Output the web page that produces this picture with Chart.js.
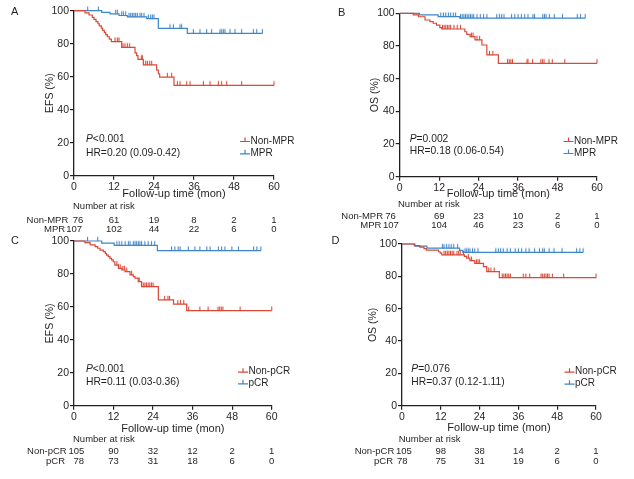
<!DOCTYPE html>
<html>
<head>
<meta charset="utf-8">
<script src="https://cdn.jsdelivr.net/npm/chart.js@4/dist/chart.umd.min.js"></script>
<style>
  html, body { margin: 0; padding: 0; background: #ffffff; }
  #wrap { position: relative; width: 634px; height: 479px; overflow: hidden; }
  canvas { position: absolute; }
</style>
</head>
<body>
<div id="wrap">
  <canvas id="cA" width="317" height="240" style="left:0px;top:0px"></canvas>
  <canvas id="cB" width="317" height="240" style="left:317px;top:0px"></canvas>
  <canvas id="cC" width="317" height="249" style="left:0px;top:230px"></canvas>
  <canvas id="cD" width="317" height="249" style="left:317px;top:230px"></canvas>
</div>
<script>
// ---------------- DATA ----------------
const xTicks = [0, 12, 24, 36, 48, 60];
const riskTimes = [0, 12, 24, 36, 48, 60];

// Panel A: EFS by MPR
const efsNonMPRSteps = [[0,100],[3.3,98.7],[4.5,97.4],[5.5,96.0],[6.0,94.7],[6.6,93.4],[7.2,92.1],[7.6,90.8],[8.2,89.4],[8.6,88.1],[9.1,86.8],[9.5,85.5],[10.0,84.2],[10.6,82.8],[11.2,81.3],[14.3,77.8],[18.3,74.5],[18.8,72.8],[19.2,70.5],[20.8,67.2],[24.8,64.0],[25.3,61.8],[25.7,59.8],[30.0,54.8]];
const efsNonMPRCensor = [12.3,13.0,13.5,14.7,15.3,16.0,16.7,20.2,20.5,21.5,22.0,22.7,23.3,28.0,29.3,31.0,31.8,33.8,34.8,38.8,40.8,43.3,44.3,45.8,50.3,60];
const efsMPRSteps = [[0,100],[8.3,99.0],[10.8,98.1],[13.5,97.1],[16.0,96.2],[21.8,95.2],[25.3,89.3],[34.0,86.3]];
const efsMPRCensor = [4.1,7.3,12.5,13.0,14.3,14.8,15.5,16.5,17.0,17.5,18.0,18.5,19.0,19.8,20.3,21.0,22.3,23.0,23.5,24.0,28.8,29.8,31.8,32.3,35.8,37.8,39.8,41.3,43.8,44.3,44.8,45.3,46.8,48.3,50.3,53.8,54.8,56.5];
const riskA_NonMPR = [76, 61, 19, 8, 2, 1];
const riskA_MPR = [107, 102, 44, 22, 6, 0];

// Panel B: OS by MPR
const osNonMPRSteps = [[0,100],[4.1,99.0],[5.7,97.9],[7.7,95.9],[9.2,94.9],[10.2,93.9],[11.2,92.8],[12.2,91.2],[12.8,90.4],[19.8,88.7],[20.4,87.1],[21.4,85.7],[22.9,83.7],[25.0,80.6],[26.5,74.5],[30.0,69.4]];
const osNonMPRCensor = [13.0,13.5,14.0,14.5,15.0,15.5,16.5,17.5,18.5,21.8,22.3,23.5,24.3,27.3,28.3,32.8,33.3,33.8,34.3,38.7,39.0,40.4,42.9,43.4,43.9,45.4,46.4,50.2,60];
const osMPRSteps = [[0,100],[6.0,99.0],[11.7,98.0],[18.3,97.0]];
const osMPRCensor = [12.5,13.3,14.0,14.8,15.5,16.3,17.0,18.5,19.0,19.5,20.0,20.5,21.0,21.5,22.0,22.5,23.5,24.5,25.5,26.5,29.5,30.3,31.0,31.7,34.0,35.0,36.0,37.0,38.0,39.0,40.5,41.0,43.5,44.0,44.5,45.5,47.0,49.5,54.0,55.0,56.4];
const riskB_NonMPR = [76, 69, 23, 10, 2, 1];
const riskB_MPR = [107, 104, 46, 23, 6, 0];

// Panel C: EFS by pCR
const efsNonPCRSteps = [[0,100],[3.3,99.0],[4.9,97.6],[6.4,96.6],[7.2,95.6],[7.9,94.5],[8.9,93.5],[9.5,92.4],[9.9,91.4],[10.4,90.5],[10.9,89.5],[11.4,88.5],[11.9,87.4],[12.4,85.4],[13.5,83.4],[14.5,82.4],[15.5,81.4],[17.0,79.4],[18.0,78.4],[18.5,77.4],[19.5,75.3],[20.5,72.3],[25.6,64.2],[30.2,61.7],[34.2,57.7]];
const efsNonPCRCensor = [13.0,13.5,14.0,14.8,15.3,16.0,17.5,19.8,21.0,21.5,22.0,22.5,23.0,23.5,24.0,27.5,28.5,29.0,31.5,32.3,33.3,34.8,38.2,40.7,43.7,44.2,44.7,45.2,50.4,60];
const efsPCRSteps = [[0,100],[8.4,98.7],[12.2,97.4],[25.3,94.2]];
const efsPCRCensor = [4.1,7.2,13.0,13.7,14.5,15.5,16.5,17.0,18.0,18.5,19.0,19.5,20.0,20.5,21.5,22.5,23.5,24.5,29.6,30.6,31.6,32.2,34.7,36.7,38.2,40.3,41.3,43.8,44.8,45.8,47.9,49.9,54.5,55.5,56.7];
const riskC_NonPCR = [105, 90, 32, 12, 2, 1];
const riskC_PCR = [78, 73, 31, 18, 6, 0];

// Panel D: OS by pCR
const osNonPCRSteps = [[0,100],[3.8,99.0],[5.5,98.1],[6.8,97.1],[7.5,96.2],[11.3,95.2],[11.8,94.3],[12.3,93.3],[19.3,92.3],[20.0,91.3],[21.0,89.7],[22.5,88.0],[25.2,86.0],[26.2,82.9],[30.1,79.2]];
const osNonPCRCensor = [13.0,13.5,14.0,14.5,15.0,15.5,16.0,17.0,17.5,18.0,19.0,20.5,21.5,23.0,23.5,24.0,26.8,27.5,28.5,31.0,31.5,32.0,32.5,33.0,33.5,37.5,38.3,39.5,43.0,43.5,44.0,44.5,45.0,45.5,46.5,50.0,60];
const osPCRSteps = [[0,100],[4.0,98.7],[7.7,97.4],[17.8,96.1],[18.8,94.8]];
const osPCRCensor = [12.5,13.0,13.8,14.5,15.2,16.0,17.2,19.5,20.0,20.5,21.0,21.8,22.5,23.5,29.0,29.8,30.5,31.3,32.5,33.5,35.0,36.0,37.0,38.3,39.3,41.0,42.5,43.5,44.0,45.5,47.0,49.5,54.0,55.0,56.0];
const riskD_NonPCR = [105, 98, 38, 14, 2, 1];
const riskD_PCR = [78, 75, 31, 19, 6, 0];

// ---------------- STYLE ----------------
const RED = '#d84a36';
const BLUE = '#3f86c8';
const TXT = '#231f20';
const FONT = '"Liberation Sans", Arial, sans-serif';

function survAt(steps, t) {
  let s = steps[0][1];
  for (const [tt, ss] of steps) { if (tt <= t) s = ss; }
  return s;
}
function tickImg(color) {
  const c = document.createElement('canvas');
  c.width = 3; c.height = 10;
  const g = c.getContext('2d');
  g.strokeStyle = color; g.lineWidth = 1.1;
  g.beginPath(); g.moveTo(1.5, 0.8); g.lineTo(1.5, 5.2); g.stroke();
  return c;
}
const redTick = tickImg(RED), blueTick = tickImg(BLUE);

function kmDatasets(label, steps, censor, color, tick) {
  const lastT = Math.max(...censor, steps[steps.length - 1][0]);
  const line = steps.map(([t, s]) => ({x: t, y: s}));
  line.push({x: lastT, y: steps[steps.length - 1][1]});
  return [
    { label, data: line, showLine: true, stepped: 'before', borderColor: color, borderWidth: 1.2,
      pointRadius: 0, fill: false, clip: false },
    { label: label + ' censored', data: censor.map(t => ({x: t, y: survAt(steps, t)})), showLine: false,
      pointStyle: tick, pointRadius: 3, clip: false }
  ];
}

const panelText = {
  id: 'panelText',
  afterDraw(chart, args, o) {
    const ctx = chart.ctx, xs = chart.scales.x;
    ctx.save();
    ctx.fillStyle = TXT;
    ctx.textBaseline = 'middle';
    // panel letter
    ctx.font = '11px ' + FONT; ctx.textAlign = 'left';
    ctx.fillText(o.letter, o.letterXY[0], o.letterXY[1]);
    // stats
    ctx.font = 'italic 10.3px ' + FONT;
    ctx.fillText('P', o.statXY[0], o.statXY[1]);
    const pw = ctx.measureText('P').width;
    ctx.font = '10.3px ' + FONT;
    ctx.fillText(o.pText, o.statXY[0] + pw, o.statXY[1]);
    ctx.fillText(o.hrText, o.statXY[0], o.statXY[2]);
    // legend
    const items = [[o.groups[0], RED, o.legendY[0]], [o.groups[1], BLUE, o.legendY[1]]];
    ctx.font = '10px ' + FONT;
    for (const [lab, col, y] of items) {
      ctx.strokeStyle = col; ctx.lineWidth = 1.2;
      ctx.beginPath();
      ctx.moveTo(o.legendX, y + 0.5); ctx.lineTo(o.legendX + 10, y + 0.5);
      ctx.moveTo(o.legendX + 5, y + 0.5); ctx.lineTo(o.legendX + 5, y - 3.5);
      ctx.stroke();
      ctx.fillStyle = TXT;
      ctx.fillText(lab, o.legendX + 10.5, y);
    }
    // risk table
    ctx.font = '9.5px ' + FONT;
    ctx.textAlign = 'left';
    ctx.fillText('Number at risk', o.riskX, o.riskY[0]);
    const x0 = xs.getPixelForValue(0);
    for (let r = 0; r < 2; r++) {
      const y = o.riskY[r + 1], vals = o.risk[r];
      ctx.textAlign = 'right';
      ctx.fillText(o.groups[r], x0 + o.labelDx[r], y);
      ctx.textAlign = 'left';
      ctx.fillText(String(vals[0]), x0 + o.numDx[r], y);
      ctx.textAlign = 'center';
      for (let i = 1; i < vals.length; i++) {
        ctx.fillText(String(vals[i]), xs.getPixelForValue(riskTimes[i]), y);
      }
    }
    ctx.restore();
  }
};

function makeChart(id, cfg) {
  const ctx = document.getElementById(id).getContext('2d');
  return new Chart(ctx, {
    type: 'scatter',
    data: { datasets: [
      ...kmDatasets(cfg.groups[0], cfg.red[0], cfg.red[1], RED, redTick),
      ...kmDatasets(cfg.groups[1], cfg.blue[0], cfg.blue[1], BLUE, blueTick)
    ]},
    options: {
      responsive: false, animation: false, events: [], devicePixelRatio: 1,
      layout: { padding: cfg.pad },
      plugins: { legend: { display: false }, tooltip: { enabled: false }, panelText: cfg },
      scales: {
        x: {
          type: 'linear', min: 0, max: 60,
          afterBuildTicks: s => { s.ticks = xTicks.map(v => ({value: v})); },
          afterFit: s => { s.height = cfg.xH; },
          grid: { display: true, drawOnChartArea: false, drawTicks: true, tickLength: 4, color: TXT, lineWidth: 1.2 },
          border: { display: true, color: TXT, width: 1.3 },
          ticks: { color: TXT, padding: 1.4, maxRotation: 0, font: { family: FONT, size: 10.5 } },
          title: { display: true, text: 'Follow-up time (mon)', color: TXT, padding: {top: 0, bottom: 0},
                   font: { family: FONT, size: 11, lineHeight: 1.2 } }
        },
        y: {
          min: 0, max: 100,
          ticks: { stepSize: 20, color: TXT, padding: 1, font: { family: FONT, size: 10.5 } },
          afterFit: s => { s.width = cfg.yW; },
          grid: { display: true, drawOnChartArea: false, drawTicks: true, tickLength: 4, color: TXT, lineWidth: 1.2 },
          border: { display: true, color: TXT, width: 1.3 },
          title: { display: true, text: cfg.yTitle, color: TXT, padding: {top: cfg.yTitlePad, bottom: 0},
                   font: { family: FONT, size: 10.5, lineHeight: 1.2 } }
        }
      }
    },
    plugins: [panelText]
  });
}

makeChart('cA', {
  letter: 'A', letterXY: [11, 12], yTitle: 'EFS (%)', groups: ['Non-MPR', 'MPR'],
  red: [efsNonMPRSteps, efsNonMPRCensor], blue: [efsMPRSteps, efsMPRCensor],
  risk: [riskA_NonMPR, riskA_MPR],
  pad: {left: 0, top: 10.7, right: 43, bottom: 39.1}, yW: 74, xH: 25.2, yTitlePad: 43.4,
  pText: '<0.001', hrText: 'HR=0.20 (0.09-0.42)', statXY: [86, 139.5, 153],
  legendX: 240, legendY: [141, 153.3],
  riskX: 73, riskY: [206.7, 220, 229.3], labelDx: [-5.7, -8.8], numDx: [-1.3, -7.8]
});
makeChart('cB', {
  letter: 'B', letterXY: [21, 12.7], yTitle: 'OS (%)', groups: ['Non-MPR', 'MPR'],
  red: [osNonMPRSteps, osNonMPRCensor], blue: [osMPRSteps, osMPRCensor],
  risk: [riskB_NonMPR, riskB_MPR],
  pad: {left: 0, top: 13.3, right: 37, bottom: 39.1}, yW: 82.7, xH: 24.2, yTitlePad: 51.7,
  pText: '=0.002', hrText: 'HR=0.18 (0.06-0.54)', statXY: [92.7, 139, 151],
  legendX: 246.5, legendY: [141, 153],
  riskX: 81, riskY: [204, 216, 225.7], labelDx: [-16.7, -18.3], numDx: [-14.4, -16.8]
});
makeChart('cC', {
  letter: 'C', letterXY: [11, 10.7], yTitle: 'EFS (%)', groups: ['Non-pCR', 'pCR'],
  red: [efsNonPCRSteps, efsNonPCRCensor], blue: [efsPCRSteps, efsPCRCensor],
  risk: [riskC_NonPCR, riskC_PCR],
  pad: {left: 0, top: 11, right: 45.3, bottom: 43.1}, yW: 74, xH: 30.2, yTitlePad: 43.4,
  pText: '<0.001', hrText: 'HR=0.11 (0.03-0.36)', statXY: [86, 139, 152.3],
  legendX: 238, legendY: [141.7, 153.3],
  riskX: 73, riskY: [209.3, 221.7, 231], labelDx: [-7.3, -9], numDx: [-5.5, -0.5]
});
makeChart('cD', {
  letter: 'D', letterXY: [14.5, 10.7], yTitle: 'OS (%)', groups: ['Non-pCR', 'pCR'],
  red: [osNonPCRSteps, osNonPCRCensor], blue: [osPCRSteps, osPCRCensor],
  risk: [riskD_NonPCR, riskD_PCR],
  pad: {left: 0, top: 14, right: 38, bottom: 44.1}, yW: 85, xH: 29.2, yTitlePad: 50.1,
  pText: '=0.076', hrText: 'HR=0.37 (0.12-1.11)', statXY: [94.3, 139.3, 152.3],
  legendX: 247.5, legendY: [141.7, 153.7],
  riskX: 81.7, riskY: [209.3, 221.7, 231], labelDx: [-7.7, -9], numDx: [-6, -5]
});
</script>
</body>
</html>
